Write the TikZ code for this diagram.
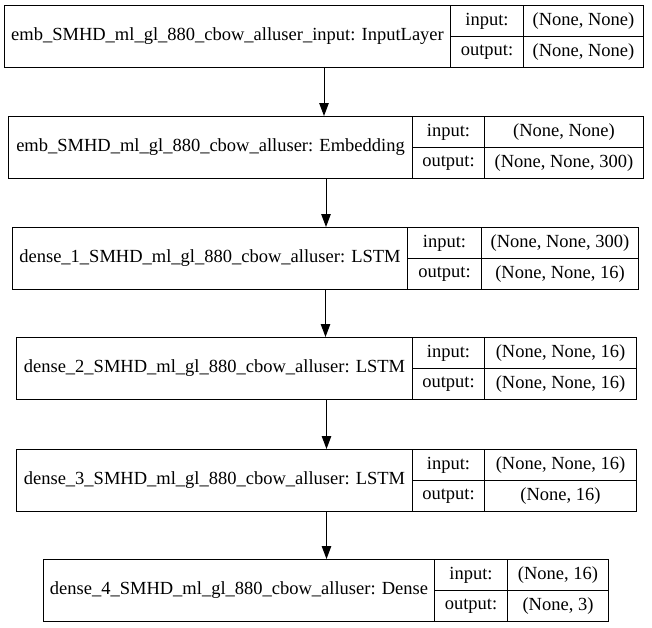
\documentclass[tikz,border=0pt]{standalone}
\usepackage{fontspec}
\setmainfont{Liberation Serif}
\usetikzlibrary{arrows.meta}
\tikzset{
  frame/.style={
    rectangle, draw=black, line width=1pt, inner sep=0pt, anchor=north west
  },
  cell/.style={
    rectangle, draw=black, line width=1pt, inner sep=0pt, anchor=north west,
    text centered, font=\fontsize{18.5}{20}\selectfont
  },
  arrow/.style={
    -{Triangle[length=13pt,width=9.5pt]}, line width=1pt, color=black
  }
}

\begin{document}
\begin{tikzpicture}[x=1pt, y=-1pt]
\useasboundingbox (0,0) rectangle (652,627);
% one record per layer: top / left / first and second divider / right
\foreach \i/\t/\l/\a/\b/\r/\ttl/\vin/\vout in {
  1/5/4/450/523/643/{emb\_SMHD\_ml\_gl\_880\_cbow\_alluser\_input: InputLayer}/{(None, None)}/{(None, None)},
  2/116/8/412/484/643/{emb\_SMHD\_ml\_gl\_880\_cbow\_alluser: Embedding}/{(None, None)}/{(None, None, 300)},
  3/227/12/407/481/638/{dense\_1\_SMHD\_ml\_gl\_880\_cbow\_alluser: LSTM}/{(None, None, 300)}/{(None, None, 16)},
  4/337/16/412/484/636/{dense\_2\_SMHD\_ml\_gl\_880\_cbow\_alluser: LSTM}/{(None, None, 16)}/{(None, None, 16)},
  5/449/16/412/484/636/{dense\_3\_SMHD\_ml\_gl\_880\_cbow\_alluser: LSTM}/{(None, None, 16)}/{(None, 16)},
  6/559/43/434/507/608/{dense\_4\_SMHD\_ml\_gl\_880\_cbow\_alluser: Dense}/{(None, 16)}/{(None, 3)}}
{
  \node[frame, minimum width=\r-\l, minimum height=62] (l\i) at (\l,\t) {};
  \node[cell, minimum width=\a-\l, minimum height=62] (n\i) at (\l,\t) {\ttl};
  \node[cell, minimum width=\b-\a, minimum height=31] (in\i) at (\a,\t) {input:};
  \node[cell, minimum width=\b-\a, minimum height=31] (out\i) at (\a,\t+31) {output:};
  \node[cell, minimum width=\r-\b, minimum height=31] (vin\i) at (\b,\t) {\vin};
  \node[cell, minimum width=\r-\b, minimum height=31] (vout\i) at (\b,\t+31) {\vout};
}
\foreach \i/\j in {1/2,2/3,3/4,4/5,5/6}
  \draw[arrow] (l\i.south) -- (l\i.south |- l\j.north);
\end{tikzpicture}
\end{document}
